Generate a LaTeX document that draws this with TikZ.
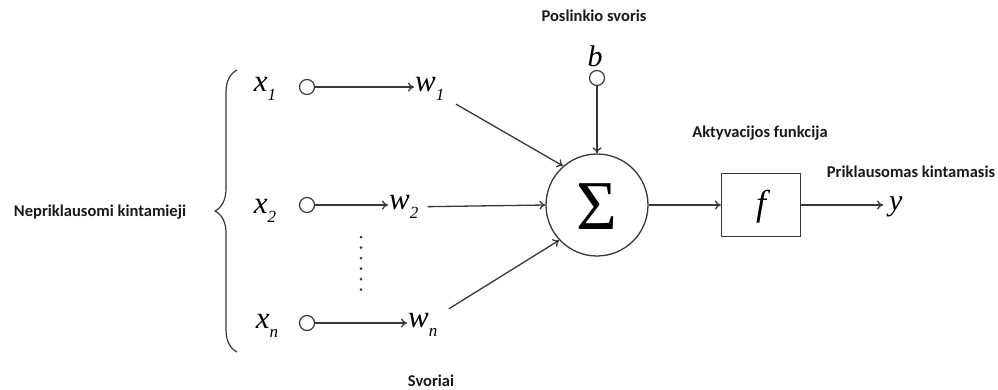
\documentclass[tikz,border=0pt]{standalone}
\usepackage{fontspec}
\setmainfont{Liberation Serif}
\newfontfamily\tms{Liberation Serif}
\newfontfamily\lbl{Carlito}
\usetikzlibrary{arrows.meta,decorations.pathreplacing}
\newcommand\mvar[2]{{\tms\itshape #1}\raisebox{-0.3em}{\tms\fontsize{17}{17}\selectfont\itshape #2}}
\begin{document}
\begin{tikzpicture}[x=1pt,y=-1pt,
  ln/.style={draw=black!78, line width=1.3pt},
  arr/.style={ln, -{To[length=6pt,width=9pt]}},
  inp/.style={circle, draw=black!78, line width=1.2pt, minimum size=15pt, inner sep=0pt},
  mth/.style={inner sep=1pt, font=\tms\fontsize{31}{31}\selectfont},
  lab/.style={font=\lbl\bfseries\fontsize{16.5}{17}\selectfont, text=black!90, inner sep=0pt},
]
\useasboundingbox (0,0) rectangle (998,389);
% inputs
\node[mth] (x1) at (265,89) {\mvar{x}{1}};
\node[mth] (x2) at (265,211) {\mvar{x}{2}};
\node[mth] (xn) at (267,326) {\mvar{x}{n}};
\node[inp] (c1) at (307,87) {};
\node[inp] (c2) at (307,205) {};
\node[inp] (cn) at (307,323) {};
\node[mth,anchor=west] (w1) at (414,89) {\mvar{w}{1}};
\node[mth,anchor=west] (w2) at (388,207) {\mvar{w}{2}};
\node[mth,anchor=west] (wn) at (407,325) {\mvar{w}{n}};
\draw[arr] (c1) -- (c1 -| w1.west);
\draw[arr] (c2) -- (c2 -| w2.west);
\draw[arr] (cn) -- (cn -| wn.west);
% dots
\foreach \i in {0,...,5} \fill[black!78] (361,237+10.5*\i) circle (1.5pt);
% summation
\node[circle, draw=black!78, line width=1.3pt, minimum size=102pt, inner sep=0pt] (S) at (597,205) {};
\node[inner sep=0pt, font=\tms\fontsize{70}{70}\selectfont] (sig) at (597,207) {Σ};
\draw[arr, shorten <=12pt] (w1) -- (S.131);
\draw[arr, shorten <=8pt] (w2) -- (S.180);
\draw[arr, shorten <=12pt] (wn) -- (S.223);
% bias
\node[inp] (cb) at (597,78) {};
\node[inner sep=1pt, font=\tms\fontsize{30}{30}\selectfont\itshape] (b) at (595,56) {b};
\draw[arr] (cb) -- (S);
% activation
\node[draw=black!78, line width=1.3pt, minimum width=79pt, minimum height=63pt, inner sep=0pt] (F) at (761,205) {};
\node[font=\tms\fontsize{36}{36}\selectfont\itshape, inner sep=0pt] (f) at (761,207) {f};
\node[inner sep=1pt, font=\tms\fontsize{30}{30}\selectfont\itshape, anchor=west] (y) at (888,207) {y};
\draw[arr] (S) -- (F);
\draw[arr, shorten >=5pt] (F) -- (F -| y.west);
% brace
\draw[ln, line width=1.2pt, decorate, decoration={brace, amplitude=22pt, aspect=0.5}] (237,352) -- (237,70);
% labels
\node[lab] (l1) at (594,16) {Poslinkio svoris};
\node[lab] (l2) at (760,133) {Aktyvacijos funkcija};
\node[lab] (l3) at (911,172) {Priklausomas kintamasis};
\node[lab] (l4) at (100,212) {Nepriklausomi kintamieji};
\node[lab] (l5) at (431,381) {Svoriai};
\end{tikzpicture}
\end{document}
